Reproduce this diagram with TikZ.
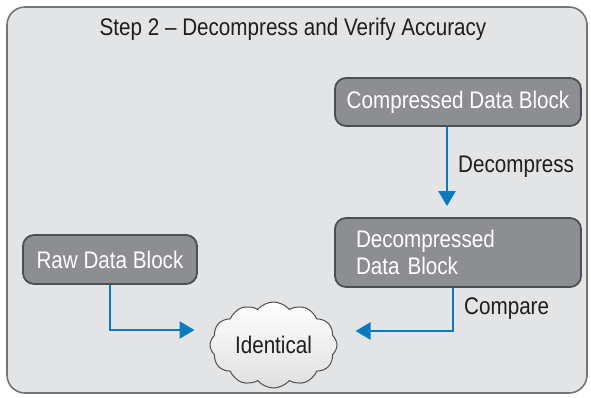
\documentclass[tikz,border=0pt]{standalone}
\usepackage{fontspec}
\setmainfont{Liberation Sans}[FakeStretch=0.86]
\usetikzlibrary{shapes.symbols,arrows.meta}
\definecolor{framefill}{HTML}{E3E4E6}
\definecolor{framedraw}{HTML}{737476}
\definecolor{boxfill}{HTML}{8D8E91}
\definecolor{boxdraw}{HTML}{4E4F51}
\definecolor{arrowblue}{HTML}{0A7BBF}
\definecolor{txt}{HTML}{1E1E1E}
\tikzset{
  every node/.style={font=\fontsize{24}{27}\selectfont},
  blockbox/.style={draw=boxdraw, line width=1.8pt, fill=boxfill, rounded corners=11pt,
    text=white, inner sep=0pt},
  flow/.style={draw=arrowblue, line width=2.4pt, -{Triangle[length=15pt,width=17pt]}},
  lbl/.style={text=txt, anchor=west, inner sep=0pt},
}
\begin{document}
\begin{tikzpicture}[x=1pt,y=-1pt]
\useasboundingbox (0,0) rectangle (591,397);
\draw[fill=framefill, draw=framedraw, line width=1.6pt, rounded corners=18pt] (7,7) rectangle (587,393);
\node[text=txt] (title) at (293,29) {Step 2 – Decompress and Verify Accuracy};
\node[blockbox, minimum width=246pt, minimum height=48pt] (cb) at (458,102) {Compressed Data Block};
\node[blockbox, minimum width=246pt, minimum height=69pt, text width=204pt, inner xsep=21pt, align=left] (db) at (458,252.5) {Decompressed\\Data Block};
\node[blockbox, minimum width=174pt, minimum height=49pt] (raw) at (110,259.5) {Raw Data Block};
\node[cloud, cloud puffs=12, cloud puff arc=100, aspect=1.5, draw=boxdraw, line width=1pt,
  inner sep=0pt, minimum width=127pt, minimum height=86pt,
  top color=white, bottom color=gray!25, text=txt] (cl) at (273.5,345) {Identical};
\coordinate (dx) at (447,0);
\coordinate (cx) at (453,0);
\draw[flow, shorten >=11pt] (cb.south -| dx) -- (db.north -| dx);
\node[lbl] (dlbl) at (458,167) {Decompress};
\draw[flow, shorten >=15pt] (raw.south) |- (cl.west |- 0,330);
\draw[flow, shorten >=18pt] (db.south -| cx) |- (cl.east |- 0,331);
\node[lbl] (clbl) at (464,309) {Compare};
\end{tikzpicture}
\end{document}
